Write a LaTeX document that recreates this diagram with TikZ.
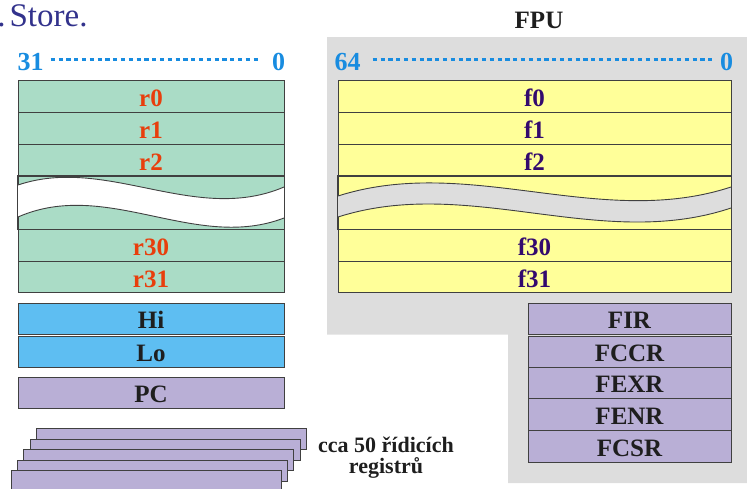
\documentclass[tikz,border=0pt]{standalone}
\usepackage{fontspec}
\setmainfont{Liberation Serif}
\definecolor{grn}{RGB}{170,220,198}
\definecolor{rtxt}{RGB}{232,62,12}
\definecolor{yel}{RGB}{255,255,153}
\definecolor{ptxt}{RGB}{51,10,110}
\definecolor{blu}{RGB}{94,190,242}
\definecolor{pur}{RGB}{185,175,214}
\definecolor{gbg}{RGB}{221,221,221}
\definecolor{dblue}{RGB}{24,140,224}
\definecolor{edge}{RGB}{64,64,64}
\definecolor{ttl}{RGB}{50,50,140}
\definecolor{blk}{RGB}{30,30,30}
\begin{document}
\begin{tikzpicture}[x=1pt,y=-1pt,
  reg/.style={draw=edge, line width=0.9pt, inner sep=0pt, minimum height=#1,
    text height=20pt, text depth=0pt, font=\fontsize{25}{25}\selectfont\bfseries},
  gregbox/.style={reg=#1, fill=grn, text=rtxt, minimum width=266pt},
  fregbox/.style={reg=#1, fill=yel, text=ptxt, minimum width=393pt},
  hibox/.style={reg=#1, fill=blu, text=blk, minimum width=266pt},
  ctlbox/.style={reg=#1, fill=pur, text=blk, minimum width=203pt},
  stackbox/.style={draw=edge, line width=1pt, fill=pur, inner sep=0pt, minimum width=270pt, minimum height=21pt},
  bitlbl/.style={inner sep=0pt, anchor=base, text=dblue, text height=21pt, text depth=0pt,
    font=\fontsize{26}{26}\selectfont\bfseries},
  dotline/.style={draw=dblue, line width=2.3pt, dash pattern=on 4.2pt off 3.6pt},
  note/.style={inner sep=0pt, anchor=base, text=blk, font=\fontsize{22}{19}\selectfont\bfseries}
]
\useasboundingbox (0,0) rectangle (747,488);

% title fragment
\node[inner sep=0pt, anchor=base west, text=ttl, font=\fontsize{33}{33}\selectfont] (store) at (9.4,26.5) {\llap{.\kern4pt}Store.};
\node[inner sep=0pt, anchor=base, text=blk, font=\fontsize{25}{25}\selectfont\bfseries] (fpu) at (539,28) {FPU};

% FPU background
\fill[gbg] (327,37) -- (747,37) -- (747,483) -- (508,483) -- (508,334.5) -- (327,334.5) -- cycle;

% bit labels
\node[bitlbl] (n31) at (30.5,70) {31};
\node[bitlbl] (n0l) at (278.5,70) {0};
\node[bitlbl] (n64) at (347.5,70) {64};
\node[bitlbl] (n0r) at (726.5,70) {0};
\draw[dotline, shorten <=7pt, shorten >=11pt] (n31.east) -- (n0l.west);
\draw[dotline, shorten <=12pt, shorten >=8pt] (n64.east) -- (n0r.west);

% integer registers
\node[gregbox=32pt] (r0) at (151,96) {r0};
\node[gregbox=32pt] (r1) at (151,128) {r1};
\node[gregbox=32pt] (r2) at (151,160) {r2};
\node[gregbox=53pt] (rgap) at (151,202.5) {};
\node[gregbox=32pt] (r30) at (151,245) {r30};
\node[gregbox=31pt] (r31) at (151,277) {r31};
\fill[white] (18,185) .. controls (106.7,155) and (195.3,225) .. (284,187)
  -- (284,218) .. controls (195.3,252) and (106.7,178) .. (18,217) -- cycle;
\draw[edge, line width=0.9pt] (18,185) .. controls (106.7,155) and (195.3,225) .. (284,187);
\draw[edge, line width=0.9pt] (18,217) .. controls (106.7,178) and (195.3,252) .. (284,218);
\draw[edge, line width=0.9pt] (rgap.north west) rectangle (rgap.south east);

% floating point registers
\node[fregbox=32pt] (f0) at (534.5,96) {f0};
\node[fregbox=32pt] (f1) at (534.5,128) {f1};
\node[fregbox=32pt] (f2) at (534.5,160) {f2};
\node[fregbox=53pt] (fgap) at (534.5,202.5) {};
\node[fregbox=32pt] (f30) at (534.5,245) {f30};
\node[fregbox=31pt] (f31) at (534.5,277) {f31};
\fill[gbg] (338,196) .. controls (469,154.2) and (600,229.9) .. (731,187)
  -- (731,208) .. controls (600,251.8) and (469,175.1) .. (338,217) -- cycle;
\draw[edge, line width=0.9pt] (338,196) .. controls (469,154.2) and (600,229.9) .. (731,187);
\draw[edge, line width=0.9pt] (338,217) .. controls (469,175.1) and (600,251.8) .. (731,208);
\draw[edge, line width=0.9pt] (fgap.north west) rectangle (fgap.south east);

% Hi / Lo / PC
\node[hibox=31pt] (hi) at (151,318.5) {Hi};
\node[hibox=31pt] (lo) at (151,351.5) {Lo};
\node[reg=31pt, fill=pur, text=blk, minimum width=266pt] (pc) at (151,392.5) {PC};

% FPU control registers
\node[ctlbox=31pt] (fir) at (629.5,318.5) {FIR};
\node[ctlbox=31pt] (fccr) at (629.5,351.5) {FCCR};
\node[ctlbox=31pt] (fexr) at (629.5,382.5) {FEXR};
\node[ctlbox=32pt] (fenr) at (629.5,414) {FENR};
\node[ctlbox=32pt] (fcsr) at (629.5,446) {FCSR};

% stack of control registers
\node[stackbox] (s1) at (171,438.5) {};
\node[stackbox] (s2) at (165,449.5) {};
\node[stackbox] (s3) at (158,459.5) {};
\node[stackbox] (s4) at (152.5,470.5) {};
\node[stackbox] (s5) at (146,480.5) {};

\node[note] (t1) at (386,452.5) {cca 50 řídicích};
\node[note] (t2) at (386,473) {registrů};
\end{tikzpicture}
\end{document}
